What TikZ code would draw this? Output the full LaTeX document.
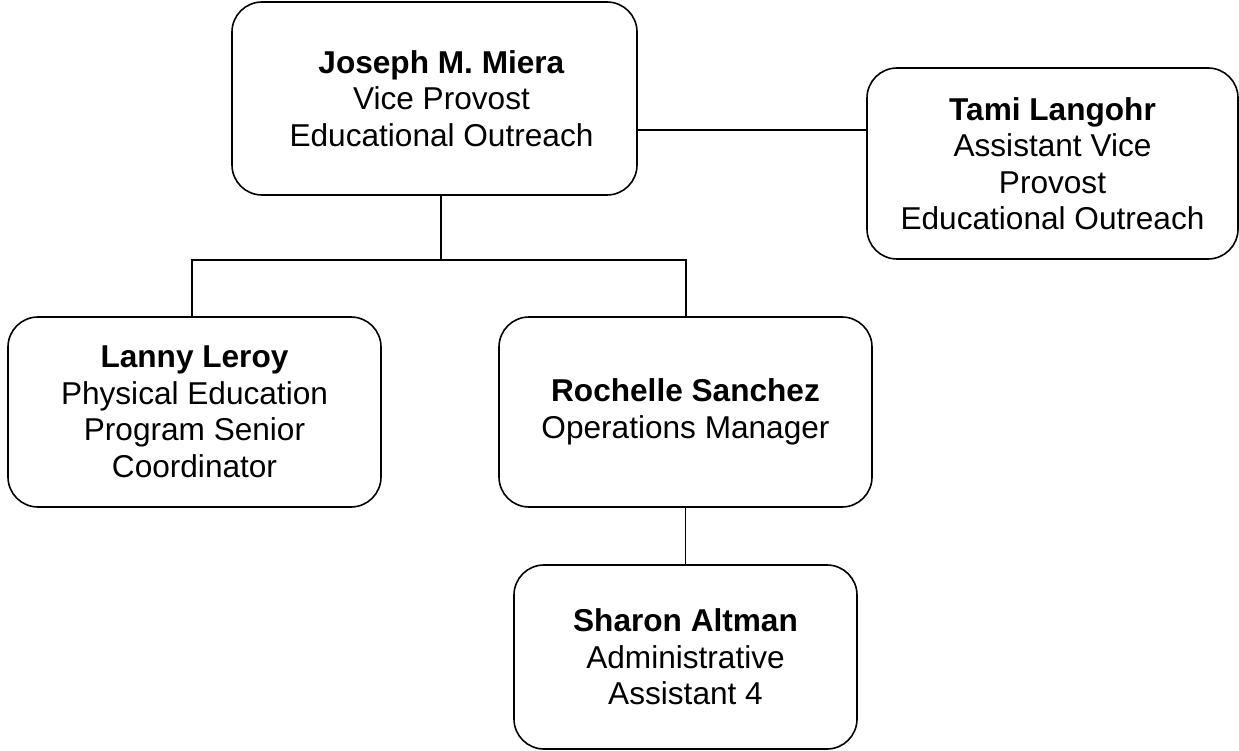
\documentclass[tikz,border=0pt]{standalone}
\usepackage{fontspec}
\setmainfont{Liberation Sans}
\begin{document}
\begin{tikzpicture}[x=1pt,y=-1pt,
  person/.style={draw=black,line width=1.6pt,rounded corners=30pt,align=center,inner sep=0pt,
    font=\fontsize{31.6}{36.5}\selectfont},
  label/.style={align=center,inner sep=0pt,font=\fontsize{31.6}{36.5}\selectfont},
  conn/.style={line width=1.3pt}]
\useasboundingbox (0,0) rectangle (1239,751);
\node[person,minimum width=405pt,minimum height=193pt] (jm) at (434.5,98.5) {};
\node[label] (jmt) at (441.5,98.5) {\textbf{Joseph M. Miera}\\Vice Provost\\Educational Outreach};
\node[person,minimum width=371pt,minimum height=191pt] (tl) at (1052.5,163.5) {\textbf{Tami Langohr}\\Assistant Vice\\Provost\\Educational Outreach};
\node[person,minimum width=373pt,minimum height=190pt] (ll) at (194.5,412) {\textbf{Lanny Leroy}\\Physical Education\\Program Senior\\Coordinator};
\node[person,minimum width=373pt,minimum height=190pt] (rs) at (685.5,412) {\textbf{Rochelle Sanchez}\\Operations Manager};
\node[person,minimum width=343pt,minimum height=184pt] (sa) at (685.5,657) {\textbf{Sharon Altman}\\Administrative\\Assistant 4};
\coordinate (bus) at (441,260);
\draw[conn] (jm.east |- 0,130) -- (tl.west |- 0,130);
\draw[conn] (441,0 |- jm.south) -- (bus);
\draw[conn] (ll.north -| 192,0) -- (192,260) -- (686,260) -- (rs.north -| 686,0);
\draw[conn] (rs.south) -- (sa.north);
\end{tikzpicture}
\end{document}
